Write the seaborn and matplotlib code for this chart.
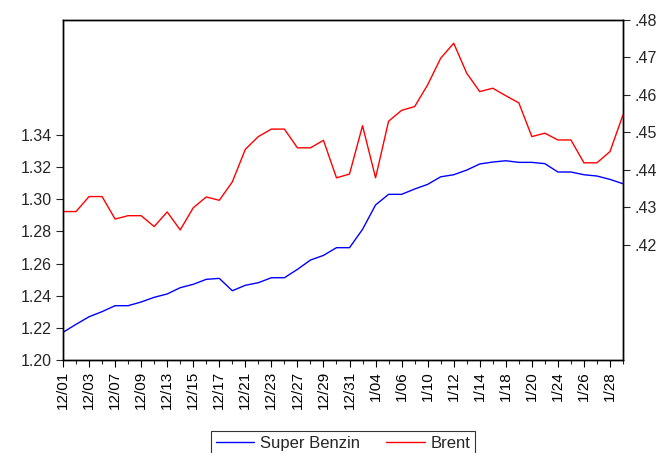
import matplotlib
matplotlib.use("Agg")
import matplotlib.pyplot as plt
import seaborn as sns
import numpy as np
import pandas as pd
from matplotlib.ticker import FixedLocator, FuncFormatter

dates = ["12/01", "12/02", "12/03", "12/06", "12/07", "12/08", "12/09", "12/10",
         "12/13", "12/14", "12/15", "12/16", "12/17", "12/20", "12/21", "12/22",
         "12/23", "12/24", "12/27", "12/28", "12/29", "12/30", "12/31", "1/03",
         "1/04", "1/05", "1/06", "1/07", "1/10", "1/11", "1/12", "1/13",
         "1/14", "1/17", "1/18", "1/19", "1/20", "1/21", "1/24", "1/25",
         "1/26", "1/27", "1/28", "1/31"]

super_benzin = [1.2172, 1.2222, 1.2269, 1.2301, 1.2338, 1.2338, 1.2361, 1.2390,
                1.2411, 1.2450, 1.2471, 1.2502, 1.2508, 1.2431, 1.2465, 1.2481,
                1.2512, 1.2512, 1.2564, 1.2622, 1.2651, 1.2699, 1.2699, 1.2813,
                1.2965, 1.3031, 1.3031, 1.3064, 1.3093, 1.3140, 1.3153, 1.3182,
                1.3220, 1.3232, 1.3240, 1.3230, 1.3230, 1.3222, 1.3170, 1.3170,
                1.3153, 1.3145, 1.3124, 1.3097]

brent = [0.4289, 0.4289, 0.4329, 0.4329, 0.4269, 0.4278, 0.4278, 0.4249,
         0.4288, 0.4240, 0.4299, 0.4328, 0.4319, 0.4368, 0.4455, 0.4489,
         0.4509, 0.4509, 0.4459, 0.4459, 0.4479, 0.4379, 0.4389, 0.4518,
         0.4379, 0.4530, 0.4559, 0.4569, 0.4627, 0.4698, 0.4738, 0.4658,
         0.4609, 0.4618, 0.4598, 0.4579, 0.4489, 0.4498, 0.4480, 0.4480,
         0.4419, 0.4419, 0.4449, 0.4547]

left_ticks = [1.20, 1.22, 1.24, 1.26, 1.28, 1.30, 1.32, 1.34]
right_ticks = [0.42, 0.43, 0.44, 0.45, 0.46, 0.47, 0.48]

sns.set_theme(style="ticks")
plt.rcParams['font.family'] = ['Liberation Sans', 'DejaVu Sans']

df = pd.DataFrame({"idx": np.arange(len(dates)), "Super Benzin": super_benzin, "Brent": brent})

fig = plt.figure(figsize=(6.67, 4.53), dpi=100)
ax = fig.add_axes([63/667, 1-360/453, (623-63)/667, (360-20)/453])
ax2 = ax.twinx()

sns.lineplot(data=df, x="idx", y="Super Benzin", ax=ax, color="#0000ff", linewidth=1.0, label="Super Benzin", legend=False)
sns.lineplot(data=df, x="idx", y="Brent", ax=ax2, color="#ff0000", linewidth=1.0, label="Brent", legend=False)

n = len(dates)
ax.set_xlim(0, n - 1)
ax.set_ylim(1.20, 1.4116)
ax2.set_ylim(0.3893, 0.48)

ax.set_xlabel("")
ax.set_ylabel("")
ax2.set_ylabel("")

fs = 11
major = list(range(0, n, 2))
ax.xaxis.set_major_locator(FixedLocator(major))
ax.xaxis.set_minor_locator(FixedLocator(list(range(n))))
ax.set_xticklabels([dates[i] for i in major], rotation=90, fontsize=fs)
ax.tick_params(axis="x", which="major", direction="out", length=5, width=0.8, pad=3, colors="black")
ax.tick_params(axis="x", which="minor", direction="out", length=3, width=0.8)

ax.yaxis.set_major_locator(FixedLocator(left_ticks))
ax.yaxis.set_major_formatter(FuncFormatter(lambda v, p: f"{v:.2f}"))
ax.tick_params(axis="y", direction="out", length=5, width=0.8, labelsize=11.5, pad=3)

ax2.yaxis.set_major_locator(FixedLocator(right_ticks))
ax2.yaxis.set_major_formatter(FuncFormatter(lambda v, p: f"{v:.2f}"[1:]))
ax2.tick_params(axis="y", direction="out", length=5, width=0.8, labelsize=11.5, pad=3)

for a in (ax, ax2):
    for s in a.spines.values():
        s.set_visible(True)
        s.set_color("black")
        s.set_linewidth(1.0)

h1, l1 = ax.get_legend_handles_labels()
h2, l2 = ax2.get_legend_handles_labels()
leg = fig.legend(h1 + h2, l1 + l2, loc="upper center", bbox_to_anchor=(343/667, 1-431/453),
                 ncol=2, frameon=True, fancybox=False, fontsize=12, handlelength=2.3,
                 columnspacing=1.6, handletextpad=0.35, borderpad=0.3, borderaxespad=0)
leg.get_frame().set_edgecolor("black")
leg.get_frame().set_linewidth(0.8)

fig.savefig("out.png", dpi=100)
